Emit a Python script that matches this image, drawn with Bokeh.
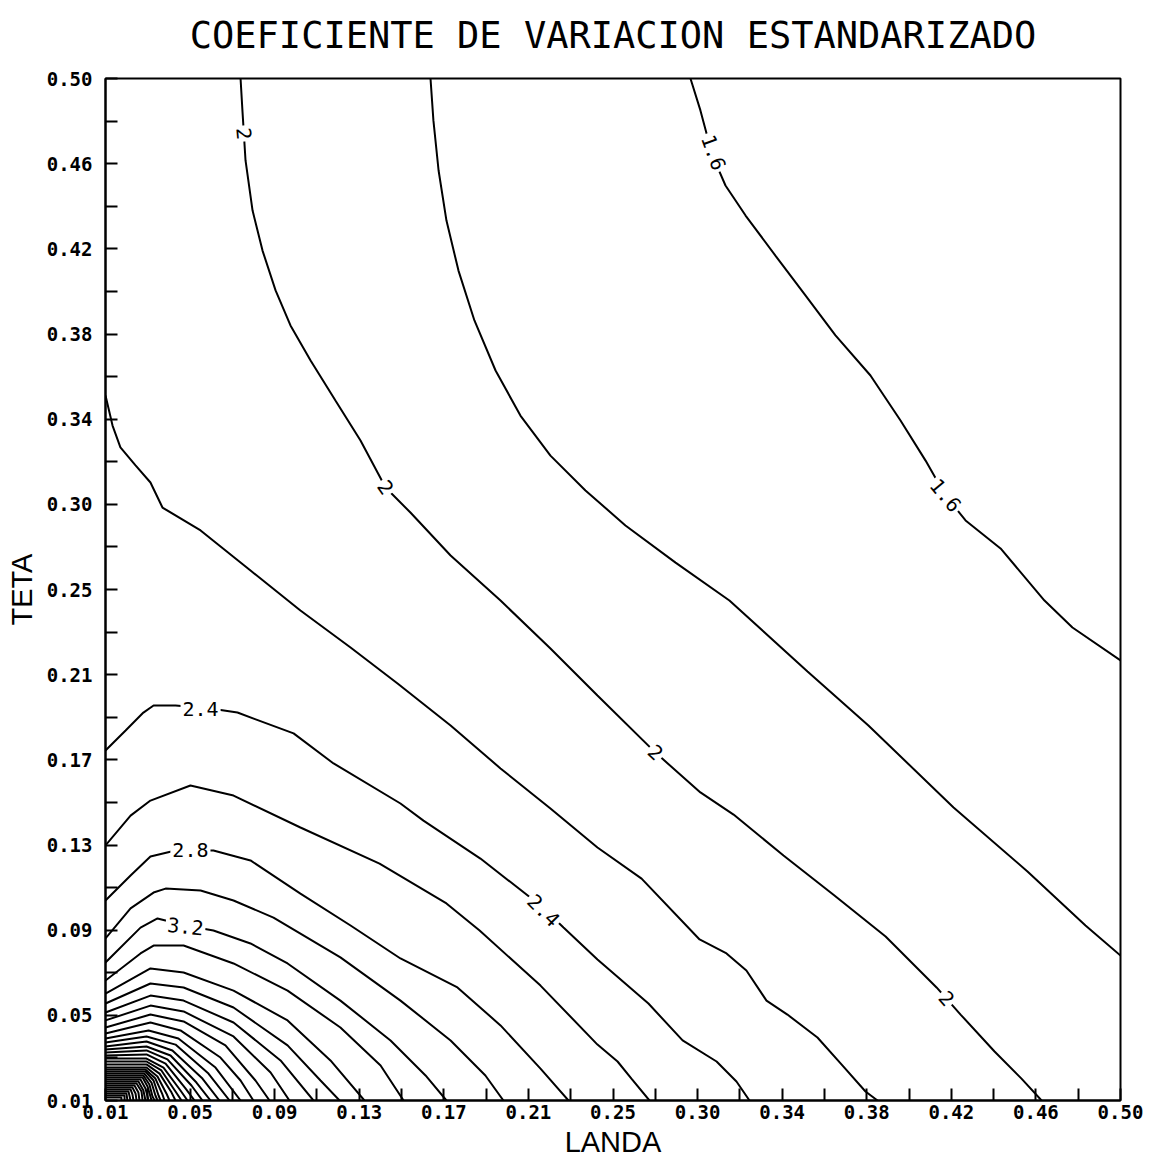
from bokeh.plotting import figure
from bokeh.models import Range1d, FixedTicker, LinearAxis
from bokeh.embed import file_html
from bokeh.resources import INLINE
from bokeh.core.properties import value
import math

# Contour lines of the standardized coefficient of variation.
# Each list holds (LANDA, TETA) points along one level curve.
c_160 = [(0.2924, 0.5000), (0.2972, 0.4847), (0.3030, 0.4631), (0.3093, 0.4487), (0.3190, 0.4343),
         (0.3334, 0.4151), (0.3479, 0.3960), (0.3624, 0.3768), (0.3793, 0.3576), (0.3938, 0.3360),
         (0.4059, 0.3168), (0.4155, 0.3001), (0.4252, 0.2881), (0.4421, 0.2747), (0.4633, 0.2497),
         (0.4768, 0.2368), (0.5000, 0.2210)]
c_180 = [(0.1669, 0.5000), (0.1683, 0.4799), (0.1708, 0.4559), (0.1746, 0.4319), (0.1804, 0.4079),
         (0.1881, 0.3840), (0.1983, 0.3600), (0.2103, 0.3384), (0.2248, 0.3192), (0.2417, 0.3025),
         (0.2610, 0.2857), (0.2852, 0.2679), (0.3112, 0.2497), (0.3489, 0.2157), (0.3783, 0.1898),
         (0.4194, 0.1505), (0.4551, 0.1198), (0.4831, 0.0939), (0.5000, 0.0795)]
c_200 = [(0.0752, 0.5000), (0.0761, 0.4847), (0.0776, 0.4607), (0.0810, 0.4367), (0.0858, 0.4175),
         (0.0921, 0.3984), (0.0993, 0.3816), (0.1090, 0.3648), (0.1210, 0.3456), (0.1331, 0.3264),
         (0.1452, 0.3039), (0.1572, 0.2919), (0.1766, 0.2713), (0.2007, 0.2497), (0.2248, 0.2267),
         (0.2475, 0.2042), (0.2755, 0.1768), (0.2972, 0.1577), (0.3132, 0.1471), (0.3373, 0.1275),
         (0.3619, 0.1083), (0.3866, 0.0886), (0.4112, 0.0642), (0.4228, 0.0512), (0.4392, 0.0335),
         (0.4522, 0.0205), (0.4619, 0.0100)]
c_220 = [(0.0100, 0.3480), (0.0134, 0.3336), (0.0172, 0.3231), (0.0245, 0.3145), (0.0317, 0.3063),
         (0.0375, 0.2943), (0.0559, 0.2833), (0.0800, 0.2641), (0.1041, 0.2449), (0.1283, 0.2272),
         (0.1510, 0.2099), (0.1766, 0.1898), (0.2007, 0.1692), (0.2248, 0.1500), (0.2475, 0.1313),
         (0.2688, 0.1164), (0.2968, 0.0872), (0.3098, 0.0805), (0.3194, 0.0723), (0.3291, 0.0579),
         (0.3392, 0.0512), (0.3537, 0.0402), (0.3653, 0.0273), (0.3769, 0.0143), (0.3827, 0.0100)]
c_240 = [(0.0100, 0.1778), (0.0197, 0.1874), (0.0283, 0.1960), (0.0332, 0.1994), (0.0438, 0.1994),
         (0.0607, 0.1979), (0.0737, 0.1960), (0.1008, 0.1860), (0.1201, 0.1716), (0.1524, 0.1524),
         (0.1635, 0.1442), (0.1910, 0.1260), (0.2200, 0.1035), (0.2311, 0.0929), (0.2475, 0.0776),
         (0.2721, 0.0565), (0.2886, 0.0388), (0.3050, 0.0287), (0.3146, 0.0191), (0.3209, 0.0100)]
c_260 = [(0.0100, 0.1323), (0.0221, 0.1466), (0.0317, 0.1538), (0.0510, 0.1610), (0.0718, 0.1562),
         (0.1041, 0.1409), (0.1423, 0.1236), (0.1746, 0.1045), (0.1906, 0.0915), (0.2200, 0.0651),
         (0.2475, 0.0368), (0.2572, 0.0287), (0.2639, 0.0205), (0.2726, 0.0100)]
c_280 = [(0.0100, 0.1059), (0.0221, 0.1179), (0.0317, 0.1270), (0.0438, 0.1299), (0.0621, 0.1299),
         (0.0800, 0.1251), (0.1041, 0.1092), (0.1283, 0.0939), (0.1524, 0.0781), (0.1799, 0.0642),
         (0.2007, 0.0460), (0.2200, 0.0253), (0.2335, 0.0100)]
c_300 = [(0.0100, 0.0877), (0.0221, 0.1021), (0.0332, 0.1097), (0.0390, 0.1116), (0.0559, 0.1107),
         (0.0718, 0.1059), (0.0911, 0.0977), (0.1234, 0.0786), (0.1524, 0.0579), (0.1766, 0.0388),
         (0.1934, 0.0220), (0.2021, 0.0100)]
c_320 = [(0.0100, 0.0762), (0.0269, 0.0929), (0.0351, 0.0973), (0.0486, 0.0939), (0.0621, 0.0915),
         (0.0800, 0.0853), (0.0979, 0.0757), (0.1234, 0.0579), (0.1476, 0.0388), (0.1645, 0.0220),
         (0.1746, 0.0100)]
c_340 = [(0.0100, 0.0675), (0.0269, 0.0805), (0.0332, 0.0843), (0.0477, 0.0843), (0.0718, 0.0757),
         (0.0979, 0.0627), (0.1234, 0.0450), (0.1428, 0.0268), (0.1539, 0.0100)]
c_360 = [(0.0100, 0.0613), (0.0317, 0.0733), (0.0477, 0.0714), (0.0718, 0.0627), (0.0979, 0.0484),
         (0.1186, 0.0292), (0.1350, 0.0100)]
c_380 = [(0.0100, 0.0565), (0.0317, 0.0661), (0.0477, 0.0642), (0.0718, 0.0546), (0.0979, 0.0364),
         (0.1138, 0.0196), (0.1230, 0.0100)]
c_400 = [(0.0100, 0.0522), (0.0317, 0.0603), (0.0477, 0.0579), (0.0718, 0.0474), (0.0945, 0.0292),
         (0.1104, 0.0100)]
c_420 = [(0.0100, 0.0484), (0.0317, 0.0555), (0.0477, 0.0527), (0.0718, 0.0407), (0.0897, 0.0234),
         (0.0988, 0.0100)]
c_440 = [(0.0100, 0.0450), (0.0317, 0.0512), (0.0477, 0.0479), (0.0679, 0.0364), (0.0824, 0.0196),
         (0.0892, 0.0100)]
c_460 = [(0.0100, 0.0421), (0.0317, 0.0474), (0.0462, 0.0436), (0.0655, 0.0306), (0.0752, 0.0196),
         (0.0814, 0.0100)]
c_480 = [(0.0100, 0.0397), (0.0308, 0.0436), (0.0452, 0.0397), (0.0631, 0.0258), (0.0752, 0.0100)]
c_500 = [(0.0100, 0.0378), (0.0298, 0.0407), (0.0438, 0.0368), (0.0597, 0.0229), (0.0699, 0.0100)]
c_520 = [(0.0100, 0.0359), (0.0298, 0.0383), (0.0423, 0.0340), (0.0568, 0.0205), (0.0650, 0.0100)]
c_540 = [(0.0100, 0.0345), (0.0298, 0.0359), (0.0414, 0.0316), (0.0539, 0.0186), (0.0607, 0.0100)]
c_560 = [(0.0100, 0.0330), (0.0298, 0.0340), (0.0399, 0.0297), (0.0515, 0.0172), (0.0568, 0.0100)]
c_580 = [(0.0100, 0.0316), (0.0298, 0.0321), (0.0390, 0.0277), (0.0486, 0.0158), (0.0530, 0.0100)]
c_600 = [(0.0100, 0.0301), (0.0298, 0.0301), (0.0380, 0.0258), (0.0462, 0.0148), (0.0496, 0.0100)]
c_620 = [(0.0100, 0.0287), (0.0298, 0.0287), (0.0370, 0.0244), (0.0438, 0.0143), (0.0467, 0.0100)]
c_640 = [(0.0100, 0.0273), (0.0298, 0.0273), (0.0361, 0.0229), (0.0419, 0.0138), (0.0438, 0.0100)]
c_660 = [(0.0100, 0.0258), (0.0298, 0.0258), (0.0351, 0.0215), (0.0394, 0.0134), (0.0409, 0.0100)]
c_680 = [(0.0100, 0.0249), (0.0293, 0.0249), (0.0341, 0.0205), (0.0375, 0.0129), (0.0385, 0.0100)]
c_700 = [(0.0100, 0.0239), (0.0293, 0.0239), (0.0332, 0.0196), (0.0356, 0.0124), (0.0366, 0.0100)]
c_720 = [(0.0100, 0.0229), (0.0288, 0.0229), (0.0322, 0.0186), (0.0341, 0.0124), (0.0351, 0.0100)]
c_740 = [(0.0100, 0.0220), (0.0283, 0.0220), (0.0312, 0.0177), (0.0327, 0.0119), (0.0337, 0.0100)]
c_760 = [(0.0100, 0.0210), (0.0279, 0.0210), (0.0303, 0.0167), (0.0317, 0.0119), (0.0322, 0.0100)]
c_780 = [(0.0100, 0.0201), (0.0269, 0.0201), (0.0293, 0.0158), (0.0308, 0.0100)]
c_800 = [(0.0100, 0.0191), (0.0259, 0.0191), (0.0283, 0.0148), (0.0293, 0.0100)]
c_820 = [(0.0100, 0.0182), (0.0250, 0.0182), (0.0274, 0.0143), (0.0279, 0.0100)]
c_840 = [(0.0100, 0.0172), (0.0240, 0.0172), (0.0259, 0.0138), (0.0264, 0.0100)]
c_860 = [(0.0100, 0.0162), (0.0230, 0.0162), (0.0245, 0.0134), (0.0250, 0.0100)]
c_880 = [(0.0100, 0.0153), (0.0221, 0.0153), (0.0230, 0.0129), (0.0235, 0.0100)]
c_900 = [(0.0100, 0.0143), (0.0211, 0.0143), (0.0221, 0.0100)]
c_920 = [(0.0100, 0.0134), (0.0201, 0.0134), (0.0206, 0.0100)]
c_940 = [(0.0100, 0.0124), (0.0192, 0.0124), (0.0192, 0.0100)]
c_960 = [(0.0100, 0.0114), (0.0177, 0.0114), (0.0177, 0.0100)]

levels = [1.6, 1.8, 2.0, 2.2, 2.4, 2.6, 2.8, 3.0, 3.2, 3.4, 3.6, 3.8, 4.0, 4.2, 4.4, 4.6, 4.8,
          5.0, 5.2, 5.4, 5.6, 5.8, 6.0, 6.2, 6.4, 6.6, 6.8, 7.0, 7.2, 7.4, 7.6, 7.8, 8.0, 8.2,
          8.4, 8.6, 8.8, 9.0, 9.2, 9.4, 9.6]
curves = [c_160, c_180, c_200, c_220, c_240, c_260, c_280, c_300, c_320, c_340, c_360, c_380,
          c_400, c_420, c_440, c_460, c_480, c_500, c_520, c_540, c_560, c_580, c_600, c_620,
          c_640, c_660, c_680, c_700, c_720, c_740, c_760, c_780, c_800, c_820, c_840, c_860,
          c_880, c_900, c_920, c_940, c_960]

# Inline level labels: level, position on its curve, text angle (degrees)
label_level = [1.6, 1.6, 2.0, 2.0, 2.0, 2.0, 2.4, 2.4, 2.8, 3.2]
label_x = [0.3035, 0.4155, 0.0767, 0.1452, 0.2755, 0.4160, 0.0559, 0.2214, 0.0510, 0.0486]
label_y = [0.4645, 0.3001, 0.4736, 0.3039, 0.1768, 0.0589, 0.1979, 0.1011, 0.1299, 0.0934]
label_angle = [-70, -50, -85, -55, -43, -48, 0, -45, 0, -6]

tick_labels = ["0.01", "0.05", "0.09", "0.13", "0.17", "0.21", "0.25",
               "0.30", "0.34", "0.38", "0.42", "0.46", "0.50"]
axis_lo, axis_hi = 0.01, 0.50

n = len(tick_labels) - 1
major = [axis_lo + k * (axis_hi - axis_lo) / n for k in range(n + 1)]
minor = [(a + b) / 2 for a, b in zip(major[:-1], major[1:])]

p = figure(width=1150, height=1160,
           x_range=Range1d(axis_lo, axis_hi), y_range=Range1d(axis_lo, axis_hi),
           output_backend="svg", toolbar_location=None,
           min_border_left=105, min_border_right=30, min_border_top=78, min_border_bottom=60)

p.xgrid.visible = False
p.ygrid.visible = False
p.background_fill_color = "white"
p.border_fill_color = "white"
p.outline_line_color = "black"
p.outline_line_width = 2

p.multi_line(xs=[[pt[0] for pt in c] for c in curves],
             ys=[[pt[1] for pt in c] for c in curves],
             line_color="black", line_width=2)

p.text(x=label_x, y=label_y, text=[f"{v:g}" for v in label_level],
       angle=[math.radians(a) for a in label_angle],
       text_align="center", text_baseline="middle",
       text_font=value("DejaVu Sans Mono"), text_font_size="20px", text_color="black",
       background_fill_color="white", padding=2)

for ax in (p.xaxis[0], p.yaxis[0]):
    ax.ticker = FixedTicker(ticks=major, minor_ticks=minor)
    ax.major_label_overrides = {float(t): lab for t, lab in zip(major, tick_labels)}
    ax.major_tick_in = 12
    ax.major_tick_out = 0
    ax.minor_tick_in = 12
    ax.minor_tick_out = 0
    ax.major_tick_line_width = 2
    ax.minor_tick_line_width = 2
    ax.axis_line_width = 2
    ax.major_label_text_font = "DejaVu Sans Mono"
    ax.major_label_text_font_size = "19px"
    ax.major_label_text_font_style = "bold"
    ax.major_label_text_color = "black"
    ax.axis_label_text_font = "Liberation Sans"
    ax.axis_label_text_font_size = "29px"
    ax.axis_label_text_font_style = "normal"
    ax.axis_label_text_color = "black"

p.xaxis.axis_label = "LANDA"
p.yaxis.axis_label = "TETA"
p.xaxis.major_label_standoff = 4
p.xaxis.axis_label_standoff = 4
p.yaxis.major_label_standoff = 13
p.yaxis.axis_label_standoff = 6

# Heading carried by a bare axis above the frame (no line, ticks or tick labels)
heading = LinearAxis(ticker=FixedTicker(ticks=[]),
                     axis_label="COEFICIENTE DE VARIACION ESTANDARIZADO",
                     axis_line_color=None, major_tick_line_color=None,
                     minor_tick_line_color=None, major_label_text_font_size="0px",
                     major_tick_out=0, minor_tick_out=0, major_label_standoff=0,
                     axis_label_standoff=22,
                     axis_label_text_font="DejaVu Sans Mono",
                     axis_label_text_font_size="37px",
                     axis_label_text_font_style="normal",
                     axis_label_text_color="black")
p.add_layout(heading, "above")

open("out.html", "w").write(file_html(p, INLINE))
